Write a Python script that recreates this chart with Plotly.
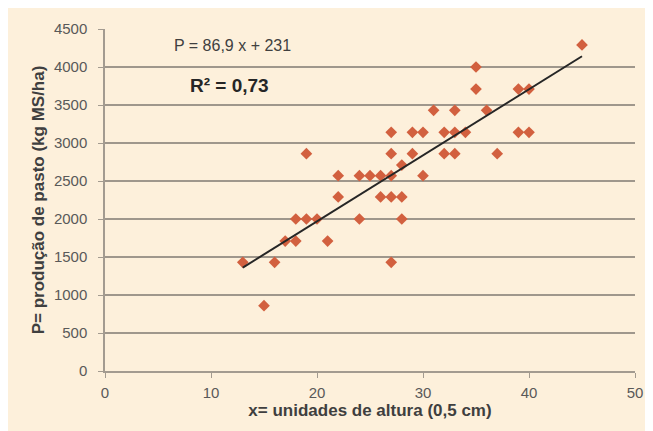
import plotly.graph_objects as go

# Data
x_vals = [13, 15, 16, 17, 18, 21, 18, 19, 20, 24, 28,
          22, 26, 27, 28, 22, 24, 25, 26, 27, 30, 28,
          19, 27, 29, 32, 33, 37,
          27, 29, 30, 32, 33, 34, 39, 40,
          31, 33, 36, 35, 39, 40, 35, 45, 27]
y_vals = [1430, 860, 1430, 1710, 1710, 1710, 2000, 2000, 2000, 2000, 2000,
          2290, 2290, 2290, 2290, 2570, 2570, 2570, 2570, 2570, 2570, 2710,
          2860, 2860, 2860, 2860, 2860, 2860,
          3140, 3140, 3140, 3140, 3140, 3140, 3140, 3140,
          3430, 3430, 3430, 3710, 3710, 3710, 4000, 4290, 1430]

slope = 86.9
intercept = 231
trend_x = [min(x_vals), max(x_vals)]
trend_y = [slope * v + intercept for v in trend_x]

x_ticks = [0, 10, 20, 30, 40, 50]
y_ticks = [0, 500, 1000, 1500, 2000, 2500, 3000, 3500, 4000, 4500]

cream = "#FDF0DB"
font = "Liberation Sans, Arial, sans-serif"

W, H = 653, 431
OFF = 8  # page body margin
L, R, T, B = 97, 26, 21, 68

fig = go.Figure()
fig.add_trace(go.Scatter(
    x=x_vals, y=y_vals, mode="markers",
    marker=dict(symbol="diamond", size=9, color="#D2603F"),
    showlegend=False, hoverinfo="skip"))
fig.add_trace(go.Scatter(
    x=trend_x, y=trend_y, mode="lines",
    line=dict(color="#262626", width=2),
    showlegend=False, hoverinfo="skip"))

pw = W - L - R
ph = H - T - B


def px_x(p):
    return (p - OFF - L) / pw


def px_y(p):
    return 1 - (p - OFF - T) / ph


fig.update_layout(
    width=W, height=H,
    margin=dict(l=L, r=R, t=T, b=B, autoexpand=False),
    paper_bgcolor=cream, plot_bgcolor=cream,
    font=dict(family=font, size=12, color="#595959"),
    xaxis=dict(range=[0, 50], tickvals=x_ticks, showgrid=False, zeroline=False,
               automargin=False,
               showline=True, linecolor="#A39B90", linewidth=1.5,
               ticks="outside", ticklen=5, tickcolor="#A39B90",
               ticklabelstandoff=2,
               tickfont=dict(size=15, color="#595959"),
               title=dict(text="<b>x= unidades de altura (0,5 cm)</b>",
                          font=dict(size=17, color="#3F3F3F"), standoff=3)),
    yaxis=dict(range=[0, 4500], tickvals=y_ticks, showgrid=True,
               automargin=False,
               gridcolor="#9F978C", gridwidth=1.7, zeroline=False,
               showline=True, linecolor="#A39B90", linewidth=1.5,
               ticks="outside", ticklen=5, tickcolor="#A39B90",
               ticklabelstandoff=8,
               tickfont=dict(size=15, color="#595959"),
               title=dict(text="<b>P= produção de pasto (kg MS/ha)</b>",
                          font=dict(size=17, color="#3F3F3F"), standoff=5)),
    annotations=[
        dict(x=px_x(232), y=px_y(45), xref="paper", yref="paper", text="P = 86,9 x + 231",
             xanchor="center", yanchor="middle",
             showarrow=False, font=dict(size=16, color="#404040")),
        dict(x=px_x(229), y=px_y(85), xref="paper", yref="paper", text="<b>R² = 0,73</b>",
             xanchor="center", yanchor="middle",
             showarrow=False, font=dict(size=19, color="#262626")),
    ],
)

fig.write_html("out.html")
